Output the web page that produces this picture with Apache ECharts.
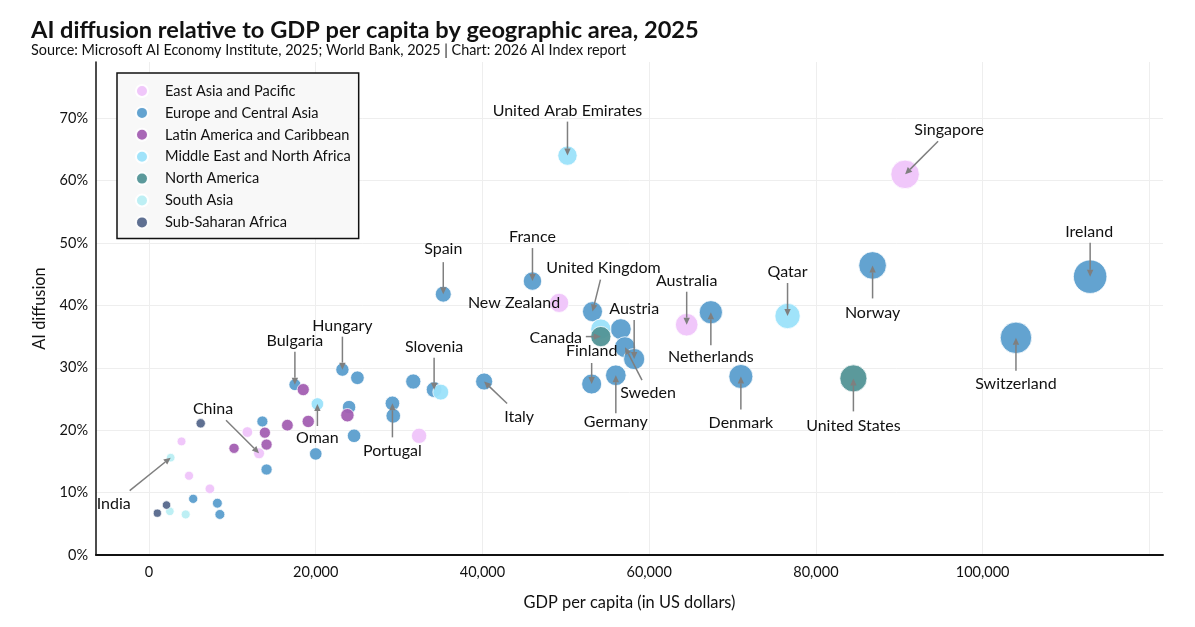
<!DOCTYPE html>
<html>
<head>
<meta charset="utf-8">
<title>AI diffusion relative to GDP per capita</title>
<script src="https://cdn.jsdelivr.net/npm/echarts@6/dist/echarts.min.js"></script>
<style>
  html, body { margin: 0; padding: 0; background: #fff; }
  #chart { width: 1195px; height: 627px; }
</style>
</head>
<body>
<div id="chart"></div>
<script>
// regions (legend order)
const regions = [
  'East Asia and Pacific',
  'Europe and Central Asia',
  'Latin America and Caribbean',
  'Middle East and North Africa',
  'North America',
  'South Asia',
  'Sub-Saharan Africa'
];
const regionColors = ['#efc4fa', '#5b9ece', '#a35fb2', '#9be1fa', '#529496', '#b9eef3', '#56688c'];

// [GDP per capita (US$), AI diffusion (%), country label]
const eastAsiaPacific = [
  [3900, 18.2, ''], [4800, 12.7, ''], [7300, 10.6, ''], [11800, 19.7, ''],
  [13200, 16.3, 'China'], [32400, 19.1, ''], [49200, 40.4, 'New Zealand'],
  [64500, 36.9, 'Australia'], [90700, 61.0, 'Singapore']
];
const europeCentralAsia = [
  [5300, 9.0, ''], [8200, 8.3, ''], [8500, 6.5, ''], [13600, 21.4, ''],
  [14100, 13.7, ''], [20000, 16.2, ''], [17500, 27.3, 'Bulgaria'],
  [23200, 29.7, 'Hungary'], [25000, 28.4, ''], [24000, 23.7, ''],
  [24600, 19.1, ''], [29200, 24.3, 'Portugal'], [29300, 22.3, ''],
  [31700, 27.8, ''], [34200, 26.5, 'Slovenia'], [35300, 41.8, 'Spain'],
  [40200, 27.8, 'Italy'], [46000, 43.9, 'France'], [53200, 39.0, 'United Kingdom'],
  [53100, 27.4, 'Finland'], [56000, 28.8, 'Germany'], [56600, 36.2, ''],
  [57100, 33.3, 'Sweden'], [58200, 31.4, 'Austria'], [67400, 38.9, 'Netherlands'],
  [71000, 28.6, 'Denmark'], [86800, 46.4, 'Norway'], [104000, 34.8, 'Switzerland'],
  [112900, 44.6, 'Ireland']
];
const latinAmericaCaribbean = [
  [10200, 17.1, ''], [13900, 19.6, ''], [14100, 17.7, ''], [16600, 20.8, ''],
  [18500, 26.5, ''], [19100, 21.4, ''], [23800, 22.4, '']
];
const middleEastNorthAfrica = [
  [20200, 24.2, 'Oman'], [35000, 26.1, ''], [50200, 64.0, 'United Arab Emirates'],
  [54200, 36.2, ''], [76600, 38.3, 'Qatar']
];
const northAmerica = [[54200, 35.0, 'Canada'], [84500, 28.3, 'United States']];
const southAsia = [[2600, 15.6, 'India'], [2500, 7.0, ''], [4400, 6.5, '']];
const subSaharanAfrica = [[6200, 21.1, ''], [2100, 8.0, ''], [1000, 6.7, '']];

const regionData = [
  eastAsiaPacific, europeCentralAsia, latinAmericaCaribbean,
  middleEastNorthAfrica, northAmerica, southAsia, subSaharanAfrica
];

const xTickLabels = [0, 20000, 40000, 60000, 80000, 100000];
const xGridValues = [0, 20000, 40000, 60000, 80000, 100000, 120000];
const yTickLabels = [0, 10, 20, 30, 40, 50, 60, 70];

// label / arrow placement in pixels relative to the point
const labelLayout = {
  'United Arab Emirates': { label: [0, -45], from: [0, -34] },
  'Singapore': { label: [44, -44], from: [33, -33] },
  'Ireland': { label: [-1, -45], from: [0, -34] },
  'Norway': { label: [0, 47], from: [0, 33] },
  'Switzerland': { label: [0, 46], from: [0, 33] },
  'United States': { label: [0, 47], from: [0, 33] },
  'Qatar': { label: [0, -44], from: [0, -33] },
  'Denmark': { label: [0, 46], from: [0, 33] },
  'Netherlands': { label: [0, 45], from: [0, 33] },
  'Australia': { label: [0, -44], from: [0, -33] },
  'United Kingdom': { label: [11, -44], from: [8, -32] },
  'Austria': { label: [0, -50], from: [0, -39] },
  'Canada': { label: [-45, 1], from: [-15, 0] },
  'Finland': { label: [0, -33], from: [0, -21] },
  'Sweden': { label: [23, 46], from: [17, 33] },
  'Germany': { label: [0, 47], from: [0, 38] },
  'Italy': { label: [35, 35], from: [23, 22] },
  'New Zealand': { label: [1, 0], from: null, align: 'right' },
  'France': { label: [0, -44], from: [0, -33] },
  'Spain': { label: [0, -45], from: [0, -32] },
  'Slovenia': { label: [0, -43], from: [0, -32] },
  'Portugal': { label: [0, 47], from: [0, 34] },
  'Hungary': { label: [0, -44], from: [0, -33] },
  'Bulgaria': { label: [0, -44], from: [0, -33] },
  'Oman': { label: [0, 34], from: [0, 22] },
  'China': { label: [-46, -44], from: [-33, -33] },
  'India': { label: [-57, 46], from: [-41, 33] }
};

const font = 'Lato, "Noto Sans", sans-serif';
const ink = '#111';

const annotations = [];
regionData.forEach(function (list) {
  list.forEach(function (d) {
    if (d[2] && labelLayout[d[2]]) annotations.push(d);
  });
});

function drawAnnotation(params, api) {
  const d = annotations[params.dataIndex];
  const lay = labelLayout[d[2]];
  const pt = api.coord([api.value(0), api.value(1)]);
  const children = [];
  if (lay.from) {
    const sx = pt[0] + lay.from[0];
    const sy = pt[1] + lay.from[1];
    const ex = pt[0];
    const ey = pt[1];
    const ang = Math.atan2(ey - sy, ex - sx);
    const len = 7;
    const hw = 3.2;
    const bx = ex - Math.cos(ang) * len;
    const by = ey - Math.sin(ang) * len;
    children.push({
      type: 'line',
      shape: { x1: sx, y1: sy, x2: bx, y2: by },
      style: { stroke: '#7f7f7f', lineWidth: 1.5 }
    });
    children.push({
      type: 'polygon',
      shape: {
        points: [
          [ex, ey],
          [bx - Math.sin(ang) * hw, by + Math.cos(ang) * hw],
          [bx + Math.sin(ang) * hw, by - Math.cos(ang) * hw]
        ]
      },
      style: { fill: '#7f7f7f' }
    });
  }
  children.push({
    type: 'text',
    x: pt[0] + lay.label[0],
    y: pt[1] + lay.label[1],
    style: {
      text: d[2],
      fill: ink,
      font: '16px ' + font,
      align: lay.align || 'center',
      verticalAlign: 'middle'
    }
  });
  return { type: 'group', children: children };
}

const chart = echarts.init(document.getElementById('chart'), null, { renderer: 'canvas' });

const series = regions.map(function (name, i) {
  return {
    name: name,
    type: 'scatter',
    data: regionData[i].map(function (d) { return [d[0], d[1]]; }),
    symbol: 'circle',
    symbolSize: function (v) { return 8 + 0.226 * v[0] / 1000; },
    itemStyle: {
      color: regionColors[i],
      opacity: 0.95,
      borderColor: '#fff',
      borderWidth: 0.8
    },
    emphasis: { disabled: true },
    z: 2 + i
  };
});

series.push({
  type: 'custom',
  name: 'labels',
  data: annotations.map(function (d) { return [d[0], d[1]]; }),
  renderItem: drawAnnotation,
  clip: false,
  silent: true,
  z: 20
});

chart.setOption({
  backgroundColor: '#fff',
  animation: false,
  textStyle: { fontFamily: font },
  title: [
    {
      text: 'AI diffusion relative to GDP per capita by geographic area, 2025',
      left: 31,
      top: 18,
      padding: 0,
      textStyle: { fontFamily: font, fontSize: 23.6, fontWeight: 'bold', color: ink }
    },
    {
      text: 'Source: Microsoft AI Economy Institute, 2025; World Bank, 2025 | Chart: 2026 AI Index report',
      left: 31,
      top: 43,
      padding: 0,
      textStyle: { fontFamily: font, fontSize: 14.4, fontWeight: 'normal', color: ink }
    }
  ],
  legend: {
    data: regions,
    orient: 'vertical',
    left: 117,
    top: 73,
    padding: [10, 8, 8, 18],
    itemWidth: 36,
    itemHeight: 12,
    itemGap: 5.9,
    icon: 'circle',
    backgroundColor: '#f8f8f8',
    borderColor: '#111',
    borderWidth: 1.5,
    borderRadius: 0,
    selectedMode: false,
    textStyle: { fontFamily: font, fontSize: 14.6, color: ink, lineHeight: 16 }
  },
  grid: { left: 96, right: 32, top: 62, bottom: 72, containLabel: false },
  xAxis: {
    type: 'value',
    min: -6360,
    max: 121640,
    name: 'GDP per capita (in US dollars)',
    nameLocation: 'middle',
    nameGap: 40,
    nameTextStyle: { fontFamily: font, fontSize: 16.4, color: ink },
    axisLine: { show: true, onZero: false, lineStyle: { color: ink, width: 2 } },
    axisTick: { show: false, customValues: xGridValues },
    axisLabel: {
      customValues: xTickLabels,
      fontFamily: font,
      fontSize: 14.5,
      color: ink,
      margin: 10,
      formatter: function (v) { return v.toLocaleString('en-US'); }
    },
    splitLine: { show: true, lineStyle: { color: '#eeeeee', width: 1 } }
  },
  yAxis: {
    type: 'value',
    min: 0,
    max: 79,
    name: 'AI diffusion',
    nameLocation: 'middle',
    nameGap: 48,
    nameTextStyle: { fontFamily: font, fontSize: 16.4, color: ink },
    axisLine: { show: true, onZero: false, lineStyle: { color: ink, width: 1.5 } },
    axisTick: { show: false, customValues: yTickLabels },
    axisLabel: {
      customValues: yTickLabels,
      fontFamily: font,
      fontSize: 14.5,
      color: ink,
      margin: 8,
      formatter: '{value}%'
    },
    splitLine: { show: true, lineStyle: { color: '#eeeeee', width: 1 } }
  },
  series: series
});
</script>
</body>
</html>
